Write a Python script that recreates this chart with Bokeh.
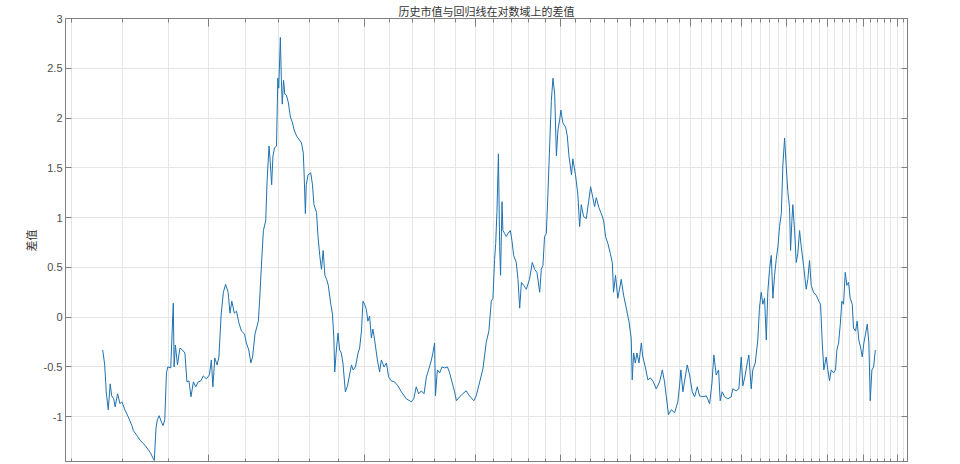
from bokeh.plotting import figure
from bokeh.models import LogAxis, LinearAxis, FixedTicker, Range1d, ColumnDataSource, CustomJSTickFormatter
from bokeh.embed import file_html
from bokeh.resources import INLINE

title_text = "历史市值与回归线在对数域上的差值"
y_label = "差值"

t_vals = [
    7.59, 7.63, 7.66, 7.70, 7.74, 7.77, 7.81, 7.84, 7.89, 7.94, 7.98, 8.04, 8.11, 8.19, 8.22,
    8.30, 8.37, 8.48, 8.59, 8.68, 8.72, 8.75, 8.79, 8.85, 8.88, 8.92, 8.96, 8.99, 9.06, 9.12,
    9.14, 9.17, 9.22, 9.28, 9.34, 9.40, 9.45, 9.50, 9.55, 9.61, 9.67, 9.73, 9.80, 9.86, 9.94,
    10.02, 10.07, 10.11, 10.16, 10.22, 10.27, 10.33, 10.39, 10.45, 10.52, 10.57, 10.62, 10.69,
    10.75, 10.82, 10.89, 10.98, 11.03, 11.10, 11.16, 11.21, 11.28, 11.38, 11.43, 11.48, 11.53,
    11.60, 11.64, 11.70, 11.73, 11.78, 11.82, 11.87, 11.93, 11.97, 12.00, 12.05, 12.08, 12.11,
    12.15, 12.19, 12.24, 12.30, 12.37, 12.43, 12.49, 12.57, 12.64, 12.73, 12.79, 12.82, 12.86,
    12.89, 12.95, 13.04, 13.10, 13.15, 13.24, 13.29, 13.35, 13.41, 13.47, 13.53, 13.59, 13.65,
    13.74, 13.80, 13.85, 13.88, 13.94, 14.00, 14.06, 14.12, 14.18, 14.27, 14.35, 14.44, 14.50,
    14.56, 14.65, 14.75, 14.81, 14.88, 14.94, 15.00, 15.07, 15.13, 15.20, 15.27, 15.33, 15.40,
    15.51, 15.60, 15.67, 15.78, 15.88, 15.97, 16.08, 16.22, 16.36, 16.51, 16.72, 16.94, 17.05,
    17.16, 17.27, 17.39, 17.51, 17.62, 17.72, 17.85, 17.92, 18.00, 18.04, 18.13, 18.24, 18.35,
    18.48, 18.61, 18.72, 18.83, 18.96, 19.05, 19.21, 19.37, 19.54, 19.71, 19.93, 20.06, 20.24,
    20.41, 20.59, 20.73, 20.86, 20.95, 21.04, 21.10, 21.17, 21.25, 21.32, 21.37, 21.45, 21.50,
    21.60, 21.69, 21.78, 21.92, 22.01, 22.11, 22.26, 22.36, 22.46, 22.56, 22.69, 22.85, 23.04,
    23.21, 23.35, 23.49, 23.66, 23.76, 23.86, 23.96, 24.07, 24.17, 24.28, 24.39, 24.49, 24.60,
    24.71, 24.81, 24.92, 25.00, 25.13, 25.31, 25.42, 25.53, 25.70, 25.79, 25.97, 26.13, 26.25,
    26.36, 26.52, 26.71, 26.87, 27.01, 27.17, 27.29, 27.41, 27.60, 27.77, 27.94, 28.08, 28.25,
    28.43, 28.58, 28.67, 28.82, 28.99, 29.12, 29.25, 29.43, 29.64, 29.84, 30.02, 30.10, 30.21,
    30.34, 30.47, 30.63, 30.82, 30.94, 31.14, 31.35, 31.55, 31.76, 32.04, 32.32, 32.55, 32.74,
    32.88, 33.08, 33.32, 33.61, 33.89, 34.04, 34.16, 34.34, 34.58, 34.73, 34.94, 35.19, 35.40,
    35.65, 35.86, 36.17, 36.50, 36.81, 37.03, 37.22, 37.45, 37.68, 37.84, 38.04, 38.27, 38.60,
    38.94, 39.10, 39.45, 39.72, 39.97, 40.14, 40.39, 40.60, 40.77, 41.02, 41.19, 41.45, 41.73,
    41.91, 42.10, 42.28, 42.47, 42.66, 42.83, 43.02, 43.22, 43.40, 43.59, 43.78, 43.97, 44.16,
    44.36, 44.54, 44.74, 44.93, 45.12, 45.32, 45.44, 45.60, 45.71, 45.92, 46.12, 46.31, 46.52,
    46.72, 47.00, 47.33, 47.53, 47.74, 47.95, 48.24, 48.58, 48.91, 49.13, 49.35, 49.55, 49.86,
    50.07, 50.29, 50.51, 50.82, 51.08, 51.26, 51.49, 51.72, 51.93, 52.16, 52.39, 52.61, 52.84,
    53.07, 53.35, 53.53, 53.81, 54.04, 54.27, 54.51, 54.76, 54.99, 55.23, 55.48, 55.71, 55.91,
    56.15, 56.40, 56.65,
]

diff_vals = [
    -0.33, -0.48, -0.75, -0.93, -0.67, -0.79, -0.82, -0.90, -0.77, -0.87, -0.85, -0.93, -1.00, -1.09, -1.14,
    -1.19, -1.24, -1.29, -1.36, -1.44, -1.11, -1.03, -0.99, -1.06, -1.09, -1.03, -0.56, -0.50, -0.51, 0.14,
    -0.50, -0.28, -0.48, -0.31, -0.33, -0.36, -0.65, -0.64, -0.80, -0.65, -0.70, -0.65, -0.64, -0.59, -0.62,
    -0.58, -0.43, -0.70, -0.41, -0.48, -0.40, 0.03, 0.25, 0.33, 0.25, 0.04, 0.16, 0.04,
    0.06, -0.06, -0.14, -0.17, -0.26, -0.33, -0.46, -0.40, -0.17, -0.04, 0.25, 0.58, 0.87,
    0.97, 1.36, 1.72, 1.59, 1.33, 1.62, 1.70, 1.72, 2.40, 2.30, 2.81, 2.40, 2.14,
    2.38, 2.24, 2.23, 2.16, 2.01, 1.96, 1.88, 1.82, 1.79, 1.75, 1.65, 1.43, 1.04,
    1.33, 1.43, 1.45, 1.33, 1.13, 1.05, 0.81, 0.62, 0.48, 0.67, 0.42, 0.38, 0.32,
    0.13, 0.03, -0.21, -0.55, -0.33, -0.16, -0.33, -0.36, -0.46, -0.75, -0.69, -0.56, -0.48,
    -0.53, -0.50, -0.36, -0.31, -0.14, 0.16, 0.13, 0.08, -0.04, 0.01, -0.21, -0.12, -0.23,
    -0.43, -0.55, -0.43, -0.50, -0.46, -0.60, -0.64, -0.65, -0.69, -0.75, -0.82, -0.85, -0.82,
    -0.70, -0.77, -0.74, -0.77, -0.60, -0.53, -0.43, -0.36, -0.26, -0.79, -0.53, -0.56, -0.50,
    -0.51, -0.50, -0.56, -0.65, -0.75, -0.84, -0.80, -0.77, -0.74, -0.79, -0.84, -0.79, -0.65,
    -0.52, -0.25, -0.14, 0.16, 0.19, 0.58, 0.74, 1.06, 1.64, 0.71, 0.42, 1.16, 0.87,
    0.84, 0.81, 0.84, 0.87, 0.77, 0.62, 0.55, 0.38, 0.09, 0.35, 0.32, 0.28, 0.38,
    0.55, 0.48, 0.45, 0.25, 0.48, 0.52, 0.81, 0.84, 1.23, 1.72, 2.18, 2.40, 2.24,
    1.62, 1.88, 1.98, 2.08, 1.95, 1.91, 1.82, 1.62, 1.43, 1.59, 1.43, 1.23, 0.91,
    1.13, 1.01, 0.99, 1.16, 1.31, 1.20, 1.11, 1.20, 1.10, 1.04, 0.97, 0.81, 0.74,
    0.64, 0.55, 0.25, 0.42, 0.19, 0.28, 0.38, 0.22, 0.09, -0.04, -0.21, -0.63, -0.36,
    -0.46, -0.36, -0.46, -0.26, -0.40, -0.50, -0.63, -0.61, -0.64, -0.72, -0.65, -0.53, -0.65,
    -0.79, -0.98, -0.93, -0.96, -0.85, -0.69, -0.53, -0.75, -0.58, -0.48, -0.58, -0.75, -0.80,
    -0.70, -0.79, -0.80, -0.79, -0.87, -0.67, -0.38, -0.58, -0.53, -0.84, -0.75, -0.80, -0.82,
    -0.80, -0.72, -0.74, -0.72, -0.40, -0.69, -0.58, -0.46, -0.38, -0.72, -0.53, -0.46, -0.23,
    0.09, 0.25, 0.13, 0.19, -0.23, 0.25, 0.48, 0.62, 0.19, 0.42, 0.58, 0.71, 0.91,
    1.04, 1.52, 1.80, 1.52, 1.26, 1.10, 0.67, 0.97, 1.13, 0.87, 0.55, 0.64, 0.87,
    0.71, 0.52, 0.28, 0.38, 0.57, 0.32, 0.25, 0.22, 0.16, 0.13, -0.26, -0.53, -0.40,
    -0.53, -0.64, -0.53, -0.56, -0.53, -0.33, -0.26, -0.07, 0.16, 0.13, 0.45, 0.32, 0.35,
    0.19, 0.13, -0.11, -0.14, -0.04, -0.23, -0.30, -0.40, -0.26, -0.17, -0.07, -0.26, -0.84,
    -0.53, -0.50, -0.33,
]

x_major_ticks = [10, 15, 20, 25, 30, 35, 40, 45, 50, 55, 60]
x_minor_ticks = list(range(7, 62))
y_ticks = [-1.5, -1, -0.5, 0, 0.5, 1, 1.5, 2, 2.5, 3]
y_tick_labels = {-1.5: "-1.5", -1: "-1", -0.5: "-0.5", 0: "0", 0.5: "0.5", 1: "1",
                 1.5: "1.5", 2: "2", 2.5: "2.5", 3: "3"}

AX = "#808080"
GRID = "#e6e6e6"
LBL = "#4d4d4d"
FONT = "Liberation Sans"
CJK = "Noto Sans CJK SC"

p = figure(width=958, height=462, x_axis_type="log",
           x_range=Range1d(6.89, 61.6), y_range=Range1d(-1.46, 3.0),
           output_backend="svg", toolbar_location=None,
           min_border_left=65, min_border_right=51, min_border_top=0, min_border_bottom=0,
           background_fill_color="white", border_fill_color="white")

p.title.text = title_text
p.title.text_font = CJK
p.title.text_font_size = "11px"
p.title.text_font_style = "normal"
p.title.text_color = "#333333"
p.title.align = "center"
p.title.standoff = 0
p.title.text_line_height = 0.9

p.outline_line_color = AX
p.outline_line_width = 1

xt = FixedTicker(ticks=x_major_ticks, minor_ticks=x_minor_ticks)
yt = FixedTicker(ticks=y_ticks, minor_ticks=[])
blank = CustomJSTickFormatter(code="return '';")

def style_x(ax):
    ax.ticker = xt
    ax.formatter = blank
    ax.axis_line_color = AX
    ax.major_tick_line_color = AX
    ax.minor_tick_line_color = AX
    ax.major_tick_in = 8
    ax.major_tick_out = 0
    ax.minor_tick_in = 4
    ax.minor_tick_out = 0
    ax.major_label_standoff = 0

def style_y(ax, labels):
    ax.ticker = yt
    ax.axis_line_color = AX
    ax.major_tick_line_color = AX
    ax.minor_tick_line_color = None
    ax.major_tick_in = 6
    ax.major_tick_out = 0
    if labels:
        ax.major_label_overrides = y_tick_labels
        ax.major_label_text_font = FONT
        ax.major_label_text_font_size = "11px"
        ax.major_label_text_color = LBL
        ax.major_label_standoff = 3
    else:
        ax.formatter = blank
        ax.major_label_standoff = 0

style_x(p.xaxis[0])
style_y(p.yaxis[0], True)
p.yaxis[0].axis_label = y_label
p.yaxis[0].axis_label_text_font = CJK
p.yaxis[0].axis_label_text_font_size = "11px"
p.yaxis[0].axis_label_text_font_style = "normal"
p.yaxis[0].axis_label_text_color = "#333333"
p.yaxis[0].axis_label_standoff = 2

top = LogAxis()
style_x(top)
p.add_layout(top, "above")

right = LinearAxis()
style_y(right, False)
p.add_layout(right, "right")

p.xgrid.ticker = xt
p.xgrid.grid_line_color = GRID
p.xgrid.minor_grid_line_color = GRID
p.ygrid.ticker = yt
p.ygrid.grid_line_color = GRID

src = ColumnDataSource(dict(t=t_vals, d=diff_vals))
p.line("t", "d", source=src, line_color="#1f72b0", line_width=1)

open("out.html", "w").write(file_html(p, INLINE))
